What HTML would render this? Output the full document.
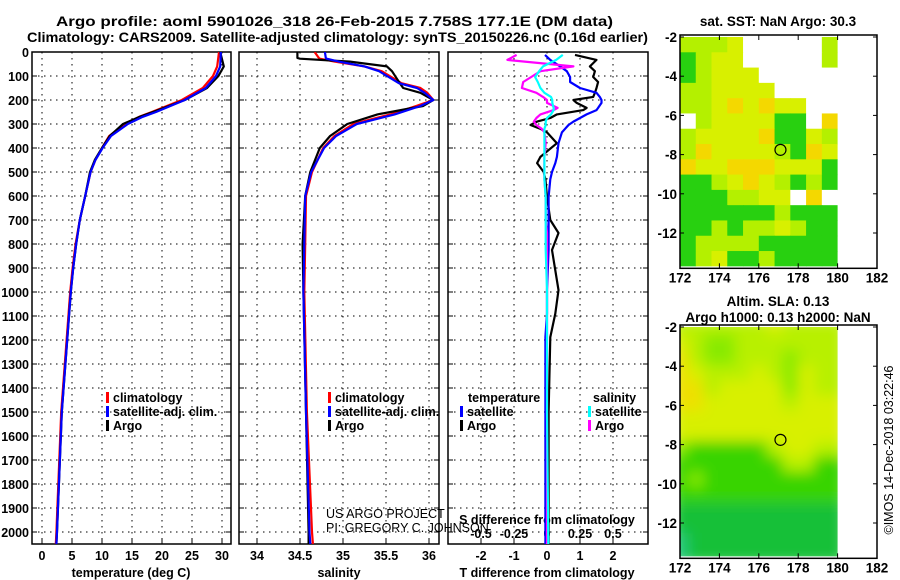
<!DOCTYPE html>
<html><head><meta charset="utf-8"><style>
body{margin:0;background:#fff}
svg{display:block;font-family:"Liberation Sans",Arial,sans-serif}
.t{font-weight:bold;font-size:13.5px}
.k{font-weight:bold;font-size:12.5px}
</style></head><body>
<svg id="s" width="900" height="580" viewBox="0 0 900 580">
<text class="t" x="56" y="26" textLength="557" lengthAdjust="spacingAndGlyphs">Argo profile: aoml 5901026_318 26-Feb-2015 7.758S 177.1E (DM data)</text>
<text class="t" x="27" y="42" textLength="621" lengthAdjust="spacingAndGlyphs">Climatology: CARS2009. Satellite-adjusted climatology: synTS_20150226.nc (0.16d earlier)</text>
<g id="g"></g>
</svg>
<script>
const tDepth=[0,60,100,150,200,250,270,300,350,400,450,500,600,700,800,900,1000,1500,2000,2050];
const tArgo=[29.7,30.3,29.4,27.5,23.8,18.5,16.3,13.5,11.3,10.0,8.8,8.0,7.2,6.3,5.7,5.2,4.8,3.3,2.5,2.4];
const tClim=[29.5,29.2,28.5,26.8,23.3,18.3,16.2,13.8,11.2,10.0,8.9,8.1,7.2,6.3,5.6,5.1,4.7,3.2,2.4,2.3];
const tSat=[29.8,29.7,29.0,27.3,23.8,19.0,16.8,14.3,11.5,10.1,8.9,8.1,7.2,6.3,5.7,5.2,4.8,3.3,2.5,2.4];
const sDepth=[0,25,28,40,60,80,130,150,170,200,225,260,300,350,400,500,600,800,1000,1500,2000,2050];
const sArgo=[34.47,34.47,34.5,35.08,35.51,35.57,35.66,35.7,35.9,36.05,35.93,35.4,35.05,34.85,34.73,34.62,34.56,34.53,34.54,34.57,34.6,34.6];
const sClim=[34.67,34.72,34.73,34.9,35.25,35.45,35.68,35.9,35.98,36.05,35.85,35.55,35.12,34.9,34.77,34.64,34.57,34.56,34.55,34.58,34.64,34.65];
const sSat=[34.79,34.8,34.81,34.95,35.25,35.42,35.65,35.86,35.95,36.05,35.9,35.6,35.16,34.92,34.78,34.63,34.56,34.55,34.54,34.57,34.61,34.62];
const dDepth=[12,33,60,80,104,125,150,170,187,200,212,233,242,260,275,290,304,320,335,380,437,463,500,530,604,700,754,825,992,1090,1188,1500,2050];
const dTArgo=[0.85,1.5,1.3,1.45,1.4,1.55,1.5,1.45,1.4,0.8,0.9,1.2,1.1,0.3,0.1,-0.3,-0.5,-0.2,0.0,0.3,-0.2,-0.3,-0.1,-0.05,0,0.1,0.35,0.15,0.35,0.25,0.1,0.05,0.05];
const dTSat=[-0.06,0.1,0.4,0.6,0.7,0.7,1.0,1.5,1.6,1.65,1.65,1.55,1.5,1.2,1.0,0.8,0.65,0.55,0.45,0.35,0.3,0.25,0.15,0.1,0.05,0.05,0.05,0.05,0.0,0.0,-0.05,-0.05,-0.05];
const dSArgo=[-0.23,-0.3,0.2,-0.05,-0.12,-0.18,-0.19,-0.08,-0.03,0.0,0.0,0.08,0.05,-0.05,-0.08,-0.1,-0.08,-0.04,-0.02,-0.01,-0.02,-0.02,-0.02,-0.02,-0.01,-0.01,0,0,0,0,0,0,0];
const dSSat=[0.12,0.07,-0.03,-0.06,-0.09,-0.07,-0.05,-0.02,0.03,0.04,0.04,0.05,0.05,0.03,0.0,-0.01,-0.01,-0.02,-0.02,-0.02,-0.02,-0.02,-0.02,-0.02,-0.01,-0.01,-0.01,-0.01,0,0,0,0,0.01];
const depthTicks=[0,100,200,300,400,500,600,700,800,900,1000,1100,1200,1300,1400,1500,1600,1700,1800,1900,2000];
const tTicks=[0,5,10,15,20,25,30];
const sTicks=[34,34.5,35,35.5,36];
const sTickLabels=["34","34.5","35","35.5","36"];
const dTTicks=[-2,-1,0,1,2];
const dSTicks=[-0.5,-0.25,0,0.25,0.5];
const dSTickLabels=["-0.5","-0.25","0","0.25","0.5"];
const lonTicks=[172,174,176,178,180,182];
const latTicks=[-2,-4,-6,-8,-10,-12];
const sstGrid=["LLLYWWWWWL","GLYYWWWWWL","GLYYYWWWWW","LLYYYYWWWW","LLYOYOYYWW","WLYYYYGGWO","LYYYYOGGYL","LOYYYYLGOY","OYYOOOYYYG","GGLYOYLGLG","GGGLLYYWOW","GGGGGGLGGG","GGLGLLYLGG","GLLLLGGGGG","GLYGGLGGGG"];
const slaGrid=["LLLLLLYLLL","YLMMLLLLLL","OLMMLLLMLL","OYLLLYLMYL","OOLYYYYMYL","OOYYYYYLYY","YYYYYYYYYY","YYYYYYYYYY","MGGGGGLYYL","GGGGGGGLLG","GMGGGGGGGG","GGGGGGGGGG","DDDDDDDDDD","DDDDDDDDDD","TDDDDDDDDD"];

const NS='http://www.w3.org/2000/svg';
const G=document.getElementById('g');
function el(tag,attrs,parent){const e=document.createElementNS(NS,tag);for(const k in attrs)e.setAttribute(k,attrs[k]);(parent||G).appendChild(e);return e;}
function txt(x,y,s,cls,anchor,parent){const e=el('text',{x:x,y:y,'class':cls||'k','text-anchor':anchor||'start'},parent);e.textContent=s;return e;}
const Y0=52,Y1=544;
const yD=d=>Y0+d*0.24;
const xT=v=>42+v*6;
const xS=v=>257+(v-34)*86;
const xDT=v=>547+v*33;
const xDS=v=>547+v*132;
const panels=[[32,231],[239,439],[448,648]];

panels.forEach((p,i)=>{
  const f=el('rect',{x:p[0],y:Y0,width:p[1]-p[0],height:Y1-Y0,fill:'none',stroke:'#000','stroke-width':1.5});
  
  
  depthTicks.forEach(d=>{
    const l=el('line',{x1:p[0],x2:p[1],y1:yD(d),y2:yD(d),stroke:'#000','stroke-dasharray':'1.5,4.5','stroke-width':1});
    
    
    el('line',{x1:p[0],x2:p[0]+5,y1:yD(d),y2:yD(d),stroke:'#000'});
    el('line',{x1:p[1]-5,x2:p[1],y1:yD(d),y2:yD(d),stroke:'#000'});
  });
});
depthTicks.forEach(d=>{const t=txt(29,yD(d)+5,String(d),'k','end');});
function vgrid(vals,fx){vals.forEach(v=>{el('line',{x1:fx(v),x2:fx(v),y1:Y0,y2:Y1,stroke:'#000','stroke-dasharray':'1.5,4.5'});el('line',{x1:fx(v),x2:fx(v),y1:Y1-5,y2:Y1,stroke:'#000'});});}
vgrid(tTicks,xT);vgrid(sTicks,xS);vgrid(dTTicks,xDT);
tTicks.forEach(v=>{const t=txt(xT(v),560,String(v),'k','middle');});
sTicks.forEach((v,i)=>{const t=txt(xS(v),560,sTickLabels[i],'k','middle');});
dTTicks.forEach(v=>{const t=txt(xDT(v),560,String(v),'k','middle');});
dSTicks.forEach((v,i)=>{const t=txt(xDS(v),538,dSTickLabels[i],'k','middle');});
[[131,'temperature (deg C)','temperature-axis-title'],[339,'salinity','salinity-axis-title'],[547,'T difference from climatology','t-diff-axis-title']].forEach(a=>{const t=txt(a[0],577,a[1],'k','middle');});
const sd=txt(547,524,'S difference from climatology','k','middle');



function line(xs,ds,fx,color,name,clip){
  const pts=xs.map((v,i)=>fx(v).toFixed(1)+','+yD(ds[i]).toFixed(1)).join(' ');
  const p=el('polyline',{points:pts,fill:'none',stroke:color,'stroke-width':2.2,'stroke-linejoin':'round','clip-path':'url(#'+clip+')'});
  
  
}
const defs=el('defs',{});
panels.forEach((p,i)=>{const c=el('clipPath',{id:'c'+i},defs);el('rect',{x:p[0],y:Y0,width:p[1]-p[0],height:Y1-Y0},c);});
line(tClim,tDepth,xT,'#f00','temperature-climatology-line','c0');
line(tArgo,tDepth,xT,'#000','temperature-argo-line','c0');
line(tSat,tDepth,xT,'#00f','temperature-satellite-line','c0');
line(sClim,sDepth,xS,'#f00','salinity-climatology-line','c1');
line(sArgo,sDepth,xS,'#000','salinity-argo-line','c1');
line(sSat,sDepth,xS,'#00f','salinity-satellite-line','c1');
line(dTArgo,dDepth,xDT,'#000','t-diff-argo-line','c2');
line(dTSat,dDepth,xDT,'#00f','t-diff-satellite-line','c2');
line(dSArgo,dDepth,xDS,'#f0f','s-diff-argo-line','c2');
line(dSSat,dDepth,xDS,'#0ff','s-diff-satellite-line','c2');

function legend(x,y,color,label,name){
  const g=el('g',{});
  
  
  el('rect',{x:x,y:y-10,width:3,height:11,fill:color},g);
  txt(x+7,y,label,'k','start',g);
}
legend(106,402,'#f00','climatology','legend-temp-climatology');
legend(106,416,'#00f','satellite-adj. clim.','legend-temp-satellite');
legend(106,430,'#000','Argo','legend-temp-argo');
legend(328,402,'#f00','climatology','legend-sal-climatology');
legend(328,416,'#00f','satellite-adj. clim.','legend-sal-satellite');
legend(328,430,'#000','Argo','legend-sal-argo');
const lt=txt(468,402,'temperature');
const ls=txt(593,402,'salinity');
legend(460,416,'#00f','satellite','legend-tdiff-satellite');
legend(460,430,'#000','Argo','legend-tdiff-argo');
legend(588,416,'#0ff','satellite','legend-sdiff-satellite');
legend(588,430,'#f0f','Argo','legend-sdiff-argo');
const c1=txt(326,518,'US ARGO PROJECT','n');c1.setAttribute('style','font-size:12.5px');
const c2=txt(326,532,'PI: GREGORY C. JOHNSON','n');c2.setAttribute('style','font-size:12.5px');

// maps
const MX0=680,MX1=877;
const xLon=v=>MX0+(v-172)*19.7;
const sstColors={L:'#b4f000',Y:'#d8f000',O:'#f4d800',G:'#28d010',W:'#ffffff'};
const slaColors={L:'#b8f000',Y:'#d8f000',O:'#eee000',M:'#88ea00',G:'#38d400',D:'#18c038',T:'#20c878'};
function map(yTop,grid,colors,name,blur,yLat){
  const top=yLat(-2), bot=yLat(-13.7);
  const g=el('g',{});
  
  
  const cw=(xLon(180)-xLon(172))/10, ch=(bot-top)/15;
  const cid='mc'+name;
  const c=el('clipPath',{id:cid},defs);el('rect',{x:MX0,y:top,width:xLon(180)-MX0,height:bot-top},c);
  const inner=el('g',{'clip-path':'url(#'+cid+')'},g);
  const g2=el('g',blur?{filter:'url(#bl)'}:{},inner);
  grid.forEach((row,r)=>{[...row].forEach((ch2,ci)=>{
    el('rect',{x:MX0+ci*cw-(blur?8:0),y:top+r*ch-(blur?8:0),width:cw+(blur?16:0.5),height:ch+(blur?16:0.5),fill:colors[ch2]},g2);
  });});
  el('rect',{x:MX0,y:top-2,width:MX1-MX0,height:bot-top+4,fill:'none',stroke:'#000','stroke-width':1.5},g);
  lonTicks.forEach(v=>{el('line',{x1:xLon(v),x2:xLon(v),y1:bot-3,y2:bot+2,stroke:'#000'},g);el('line',{x1:xLon(v),x2:xLon(v),y1:top-2,y2:top+3,stroke:'#000'},g);
    const t=txt(xLon(v),bot+16,String(v),'t','middle',g);});
  latTicks.forEach(v=>{el('line',{x1:MX0,x2:MX0+4,y1:yLat(v),y2:yLat(v),stroke:'#000'},g);el('line',{x1:MX1-4,x2:MX1,y1:yLat(v),y2:yLat(v),stroke:'#000'},g);
    const t=txt(MX0-3,yLat(v)+5,String(v),'t','end',g);});
  const o=el('circle',{cx:xLon(177.1),cy:yLat(-7.758),r:5.5,fill:'none',stroke:'#000','stroke-width':1.2},g);
  
  
}
const fl=el('filter',{id:'bl',x:'-10%',y:'-10%',width:'120%',height:'120%'},defs);
el('feGaussianBlur',{stdDeviation:7},fl);
el('rect',{x:660,y:0,width:240,height:580,fill:'#fff'});
map(36,sstGrid,sstColors,'sst-map',false,v=>37+(-2-v)*19.6);
map(325,slaGrid,slaColors,'sla-map',true,v=>327+(-2-v)*19.6);
const m1=txt(778,26,'sat. SST: NaN Argo: 30.3','t','middle');
const m2=txt(778,306,'Altim. SLA: 0.13','t','middle');
const m3=txt(778,322,'Argo h1000: 0.13 h2000: NaN','t','middle');
const cp=txt(0,0,'©IMOS 14-Dec-2018 03:22:46','n','middle');
cp.setAttribute('style','font-size:12.5px');
cp.setAttribute('transform','translate(893,450) rotate(-90)');


</script>
</body></html>
